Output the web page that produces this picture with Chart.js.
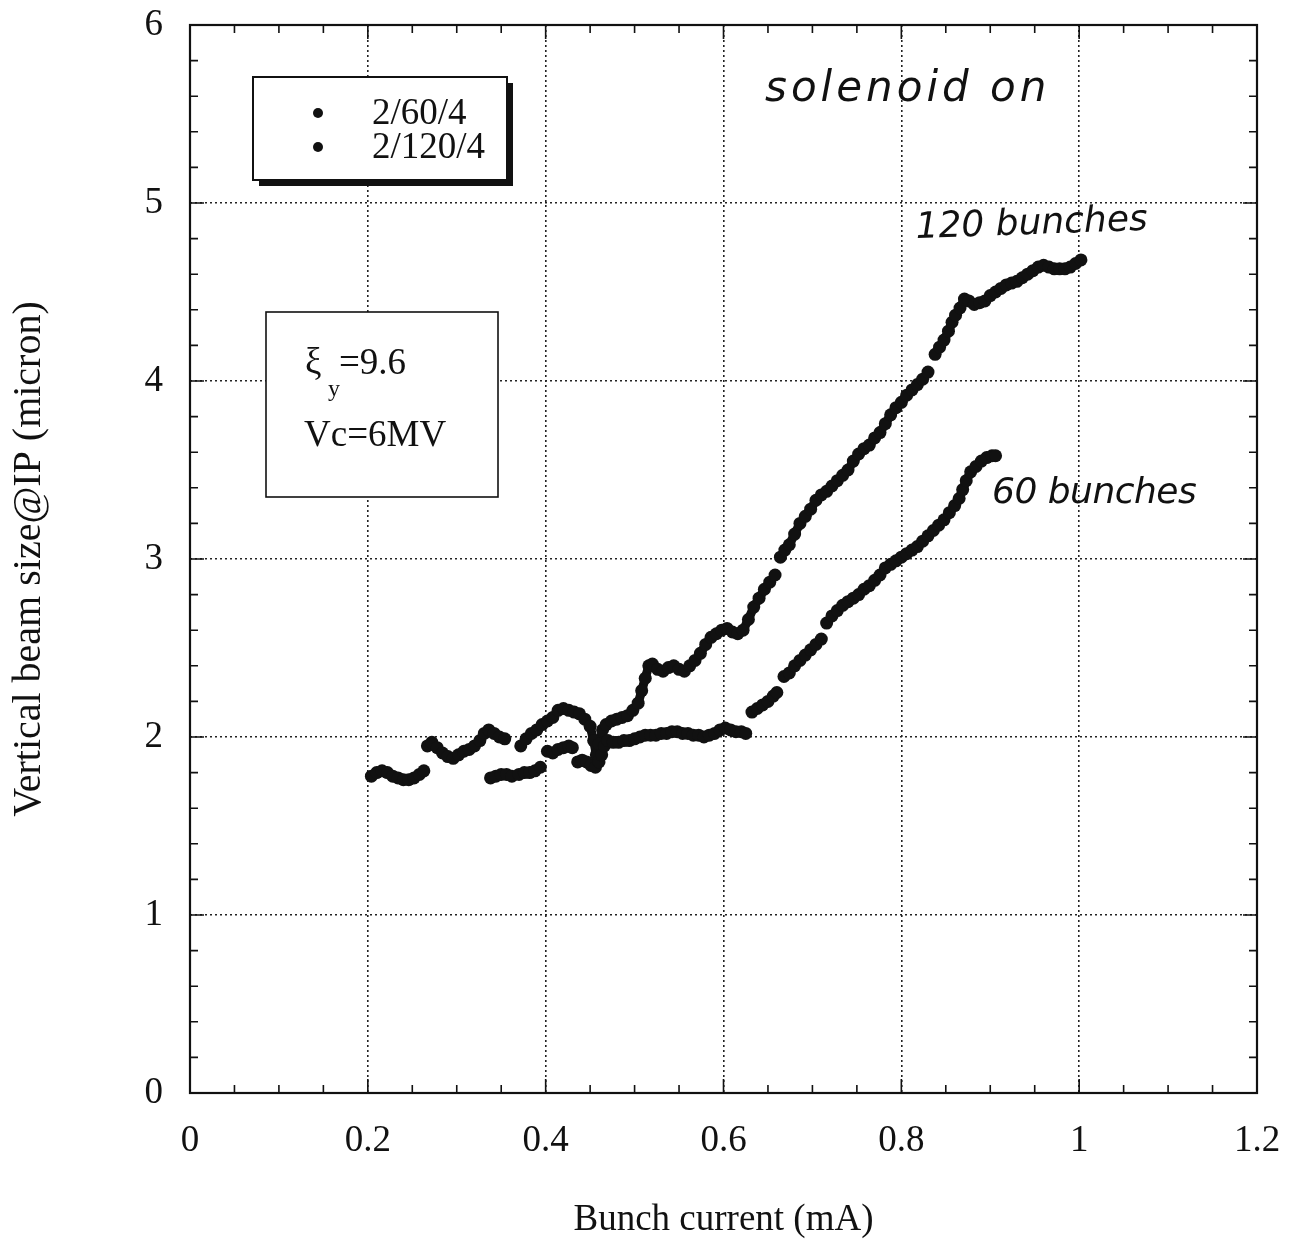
<!DOCTYPE html>
<html>
<head>
<meta charset="utf-8">
<script src="https://cdn.jsdelivr.net/npm/chart.js@4/dist/chart.umd.min.js"></script>
<style>
  html, body { margin: 0; padding: 0; background: #fff; }
</style>
</head>
<body>
<canvas id="beamChart" width="1302" height="1247"></canvas>
<script>
// bunch current (mA) vs vertical beam size at IP (micron); null breaks the trace
const current60 = [
  0.338, 0.344, 0.350, 0.356, 0.362, null,
  0.370, 0.376, 0.382, 0.388, 0.394, null,
  0.402, 0.408, 0.414, 0.420, 0.426, 0.430, null,
  0.436, 0.441, 0.446, 0.451, 0.456, 0.460, 0.463, 0.466, 0.470, 0.476, 0.482, 0.488, 0.494, 0.500,
  0.506, 0.512, 0.518, 0.524, 0.530, 0.536, 0.542, 0.548, 0.554, 0.560, 0.566, 0.572, 0.578, 0.584,
  0.590, 0.596, 0.602, 0.608, 0.614, 0.620, 0.625, null,
  0.632, 0.638, 0.644, 0.650, 0.656, 0.660, null,
  0.668, 0.674, 0.680, 0.686, 0.692, 0.698, 0.704, 0.710, null,
  0.716, 0.722, 0.728, 0.734, 0.740, 0.746, 0.752, 0.758, 0.764, 0.770, 0.776, 0.782, 0.788, 0.794,
  0.800, 0.806, 0.812, 0.818, 0.824, 0.830, 0.836, 0.842, 0.848, 0.854, 0.860, 0.865, 0.869, 0.873,
  0.878, 0.884, 0.890, 0.896, 0.902, 0.906
];
const size60 = [
  1.77, 1.78, 1.79, 1.79, 1.78, null,
  1.79, 1.80, 1.80, 1.81, 1.83, null,
  1.92, 1.91, 1.93, 1.94, 1.95, 1.94, null,
  1.86, 1.87, 1.86, 1.84, 1.83, 1.86, 1.90, 1.95, 1.98, 1.97, 1.97, 1.98, 1.98, 1.99,
  2.00, 2.01, 2.01, 2.01, 2.02, 2.02, 2.03, 2.03, 2.02, 2.02, 2.01, 2.01, 2.00, 2.01,
  2.02, 2.04, 2.05, 2.04, 2.03, 2.03, 2.02, null,
  2.14, 2.16, 2.18, 2.20, 2.23, 2.25, null,
  2.34, 2.36, 2.40, 2.43, 2.46, 2.49, 2.52, 2.55, null,
  2.64, 2.68, 2.71, 2.74, 2.76, 2.78, 2.80, 2.83, 2.85, 2.88, 2.91, 2.95, 2.97, 2.99,
  3.01, 3.03, 3.05, 3.07, 3.10, 3.13, 3.16, 3.19, 3.22, 3.26, 3.30, 3.34, 3.39, 3.44,
  3.49, 3.52, 3.55, 3.57, 3.58, 3.58
];

const current120 = [
  0.204, 0.210, 0.216, 0.222, 0.228, 0.234, 0.240, 0.246, 0.252, 0.258, 0.263, null,
  0.267, 0.272, 0.278, 0.284, 0.290, 0.296, 0.302, 0.308, 0.314, 0.320, 0.326, 0.331, 0.336, 0.342,
  0.348, 0.354, null,
  0.372, 0.378, 0.384, 0.390, 0.396, 0.402, 0.408, 0.414, 0.420, 0.426, 0.432, 0.438, 0.444, 0.450,
  0.454, 0.457, 0.460, 0.464, 0.468, 0.474, 0.480, 0.486, 0.492, 0.498, 0.504, 0.508, 0.512, 0.516,
  0.520, 0.526, 0.532, 0.538, 0.544, 0.550, 0.556, 0.562, 0.568, 0.574, 0.580, 0.586, 0.592, 0.598,
  0.604, 0.610, 0.616, 0.622, 0.628, 0.634, 0.640, 0.646, 0.652, 0.658, null,
  0.664, 0.669, 0.674, 0.680, 0.686, 0.692, 0.698, 0.704, 0.710, 0.716, 0.722, 0.728, 0.734, 0.740,
  0.746, 0.752, 0.758, 0.764, 0.770, 0.776, 0.782, 0.788, 0.794, 0.800, 0.806, 0.812, 0.818, 0.824,
  0.830, null,
  0.838, 0.843, 0.848, 0.853, 0.857, 0.861, 0.866, 0.871, 0.876, 0.882, 0.888, 0.894, 0.900, 0.906,
  0.912, 0.918, 0.924, 0.930, 0.936, 0.942, 0.948, 0.954, 0.960, 0.966, 0.972, 0.978, 0.984, 0.990,
  0.996, 1.002
];
const size120 = [
  1.78, 1.80, 1.81, 1.80, 1.78, 1.77, 1.76, 1.76, 1.77, 1.79, 1.81, null,
  1.95, 1.97, 1.94, 1.91, 1.89, 1.88, 1.90, 1.92, 1.93, 1.95, 1.98, 2.02, 2.04, 2.02,
  2.00, 1.99, null,
  1.95, 1.99, 2.02, 2.04, 2.07, 2.09, 2.11, 2.15, 2.16, 2.15, 2.14, 2.13, 2.10, 2.06,
  1.98, 1.90, 1.96, 2.04, 2.07, 2.09, 2.10, 2.11, 2.12, 2.15, 2.19, 2.26, 2.33, 2.40,
  2.41, 2.38, 2.37, 2.39, 2.40, 2.38, 2.37, 2.40, 2.43, 2.47, 2.52, 2.56, 2.58, 2.60,
  2.61, 2.59, 2.58, 2.60, 2.66, 2.73, 2.78, 2.83, 2.87, 2.91, null,
  3.01, 3.05, 3.08, 3.14, 3.20, 3.24, 3.28, 3.33, 3.36, 3.38, 3.41, 3.44, 3.47, 3.50,
  3.55, 3.59, 3.62, 3.64, 3.68, 3.71, 3.76, 3.81, 3.85, 3.88, 3.92, 3.95, 3.98, 4.01,
  4.05, null,
  4.15, 4.19, 4.23, 4.28, 4.33, 4.37, 4.41, 4.46, 4.45, 4.43, 4.44, 4.45, 4.48, 4.50,
  4.52, 4.54, 4.55, 4.56, 4.58, 4.60, 4.62, 4.64, 4.65, 4.64, 4.63, 4.63, 4.63, 4.64,
  4.66, 4.68
];

const seriesLabels = ['2/60/4', '2/120/4'];
const xTicks = [0, 0.2, 0.4, 0.6, 0.8, 1, 1.2];
const yTicks = [0, 1, 2, 3, 4, 5, 6];
const infoLines = ['=9.6', 'Vc=6MV'];
const notes = ['solenoid on', '120 bunches', '60 bunches'];

const SERIF = "'Liberation Serif', 'Times New Roman', serif";
const HAND = "'DejaVu Sans', sans-serif";

function toPoints(xs, ys) {
  return xs.map((x, i) => ({ x: x, y: ys[i] }));
}

const dotStyle = {
  showLine: true,
  spanGaps: false,
  borderColor: '#111',
  backgroundColor: '#111',
  borderWidth: 9,
  borderCapStyle: 'round',
  borderJoinStyle: 'round',
  pointRadius: 6.5,
  pointBorderWidth: 0,
  pointHoverRadius: 6.5,
  tension: 0
};

// frame with inward ticks on all four sides
const framePlugin = {
  id: 'frame',
  afterDraw(chart) {
    const { ctx, chartArea: a, scales: { x, y } } = chart;
    ctx.save();
    ctx.strokeStyle = '#111';
    ctx.lineWidth = 1.6;
    for (let i = 0; i <= 24; i++) {
      const px = x.getPixelForValue(i * 0.05);
      const len = i % 4 === 0 ? 14 : 8;
      ctx.beginPath();
      ctx.moveTo(px, a.bottom); ctx.lineTo(px, a.bottom - len);
      ctx.moveTo(px, a.top); ctx.lineTo(px, a.top + len);
      ctx.stroke();
    }
    for (let i = 0; i <= 30; i++) {
      const py = y.getPixelForValue(i * 0.2);
      const len = i % 5 === 0 ? 14 : 8;
      ctx.beginPath();
      ctx.moveTo(a.left, py); ctx.lineTo(a.left + len, py);
      ctx.moveTo(a.right, py); ctx.lineTo(a.right - len, py);
      ctx.stroke();
    }
    ctx.lineWidth = 2.2;
    ctx.strokeRect(a.left, a.top, a.right - a.left, a.bottom - a.top);
    ctx.restore();
  }
};

// legend box with drop shadow, parameter box and hand-written notes
const notesPlugin = {
  id: 'notes',
  afterDraw(chart) {
    const { ctx, chartArea: a } = chart;
    ctx.save();

    // legend
    const lx = a.left + 63, ly = a.top + 52, lw = 254, lh = 103;
    ctx.fillStyle = '#111';
    ctx.fillRect(lx + 6, ly + 6, lw, lh);
    ctx.fillStyle = '#fff';
    ctx.fillRect(lx, ly, lw, lh);
    ctx.strokeStyle = '#111';
    ctx.lineWidth = 2;
    ctx.strokeRect(lx, ly, lw, lh);
    ctx.font = '37px ' + SERIF;
    ctx.textBaseline = 'alphabetic';
    chart.data.datasets.forEach((ds, i) => {
      const cy = ly + 36 + i * 34;
      ctx.fillStyle = ds.backgroundColor;
      ctx.beginPath();
      ctx.arc(lx + 65, cy, 5, 0, Math.PI * 2);
      ctx.fill();
      ctx.fillStyle = '#111';
      ctx.fillText(ds.label, lx + 119, cy + 11);
    });

    // parameter box
    const bx = a.left + 76, by = a.top + 287, bw = 232, bh = 185;
    ctx.fillStyle = '#fff';
    ctx.fillRect(bx, by, bw, bh);
    ctx.lineWidth = 1.6;
    ctx.strokeRect(bx, by, bw, bh);
    ctx.fillStyle = '#111';
    ctx.font = '37px ' + SERIF;
    ctx.fillText('\u03BE', bx + 39, by + 62);
    ctx.font = '24px ' + SERIF;
    ctx.fillText('y', bx + 62, by + 84);
    ctx.font = '37px ' + SERIF;
    ctx.fillText(infoLines[0], bx + 73, by + 62);
    ctx.fillText(infoLines[1], bx + 38, by + 134);

    // hand-written annotations
    ctx.fillStyle = '#111';
    ctx.font = 'italic 42px ' + HAND;
    ctx.letterSpacing = '4px';
    ctx.fillText(notes[0], 765, 101);
    ctx.font = 'italic 36px ' + HAND;
    ctx.letterSpacing = '0px';
    ctx.save();
    ctx.translate(916, 238);
    ctx.rotate(-0.035);
    ctx.fillText(notes[1], 0, 0);
    ctx.restore();
    ctx.letterSpacing = '-0.5px';
    ctx.fillText(notes[2], 992, 503);
    ctx.restore();
  }
};

new Chart(document.getElementById('beamChart'), {
  type: 'line',
  data: {
    datasets: [
      Object.assign({ label: seriesLabels[0], data: toPoints(current60, size60) }, dotStyle),
      Object.assign({ label: seriesLabels[1], data: toPoints(current120, size120) }, dotStyle)
    ]
  },
  options: {
    responsive: false,
    animation: false,
    events: [],
    layout: { padding: { top: 25, right: 45, bottom: 0, left: 0 } },
    plugins: { legend: { display: false }, tooltip: { enabled: false } },
    scales: {
      x: {
        type: 'linear',
        min: 0,
        max: 1.2,
        afterBuildTicks: s => { s.ticks = xTicks.map(v => ({ value: v })); },
        afterFit: s => { s.height = 154; s.paddingLeft = 0; s.paddingRight = 0; },
        ticks: {
          color: '#111',
          padding: 26,
          font: { family: SERIF, size: 37 },
          callback: v => String(v)
        },
        grid: {
          drawTicks: false,
          lineWidth: 1.6,
          color: c => (c.tick && (c.tick.value === 0 || c.tick.value === 1.2)) ? 'rgba(0,0,0,0)' : '#222'
        },
        border: { display: false, dash: [2, 3] },
        title: {
          display: true,
          text: 'Bunch current (mA)',
          color: '#111',
          font: { family: SERIF, size: 37 },
          padding: { top: 0, bottom: 5 }
        }
      },
      y: {
        min: 0,
        max: 6,
        afterBuildTicks: s => { s.ticks = yTicks.map(v => ({ value: v })); },
        afterFit: s => { s.width = 190; s.paddingTop = 0; s.paddingBottom = 0; },
        ticks: {
          color: '#111',
          padding: 27,
          font: { family: SERIF, size: 37 },
          callback: v => String(v)
        },
        grid: {
          drawTicks: false,
          lineWidth: 1.6,
          color: c => (c.tick && (c.tick.value === 0 || c.tick.value === 6)) ? 'rgba(0,0,0,0)' : '#222'
        },
        border: { display: false, dash: [2, 3] },
        title: {
          display: true,
          text: 'Vertical beam size@IP (micron)',
          color: '#111',
          font: { family: SERIF, size: 40 },
          padding: { top: 5, bottom: 0 }
        }
      }
    }
  },
  plugins: [framePlugin, notesPlugin]
});
</script>
</body>
</html>
